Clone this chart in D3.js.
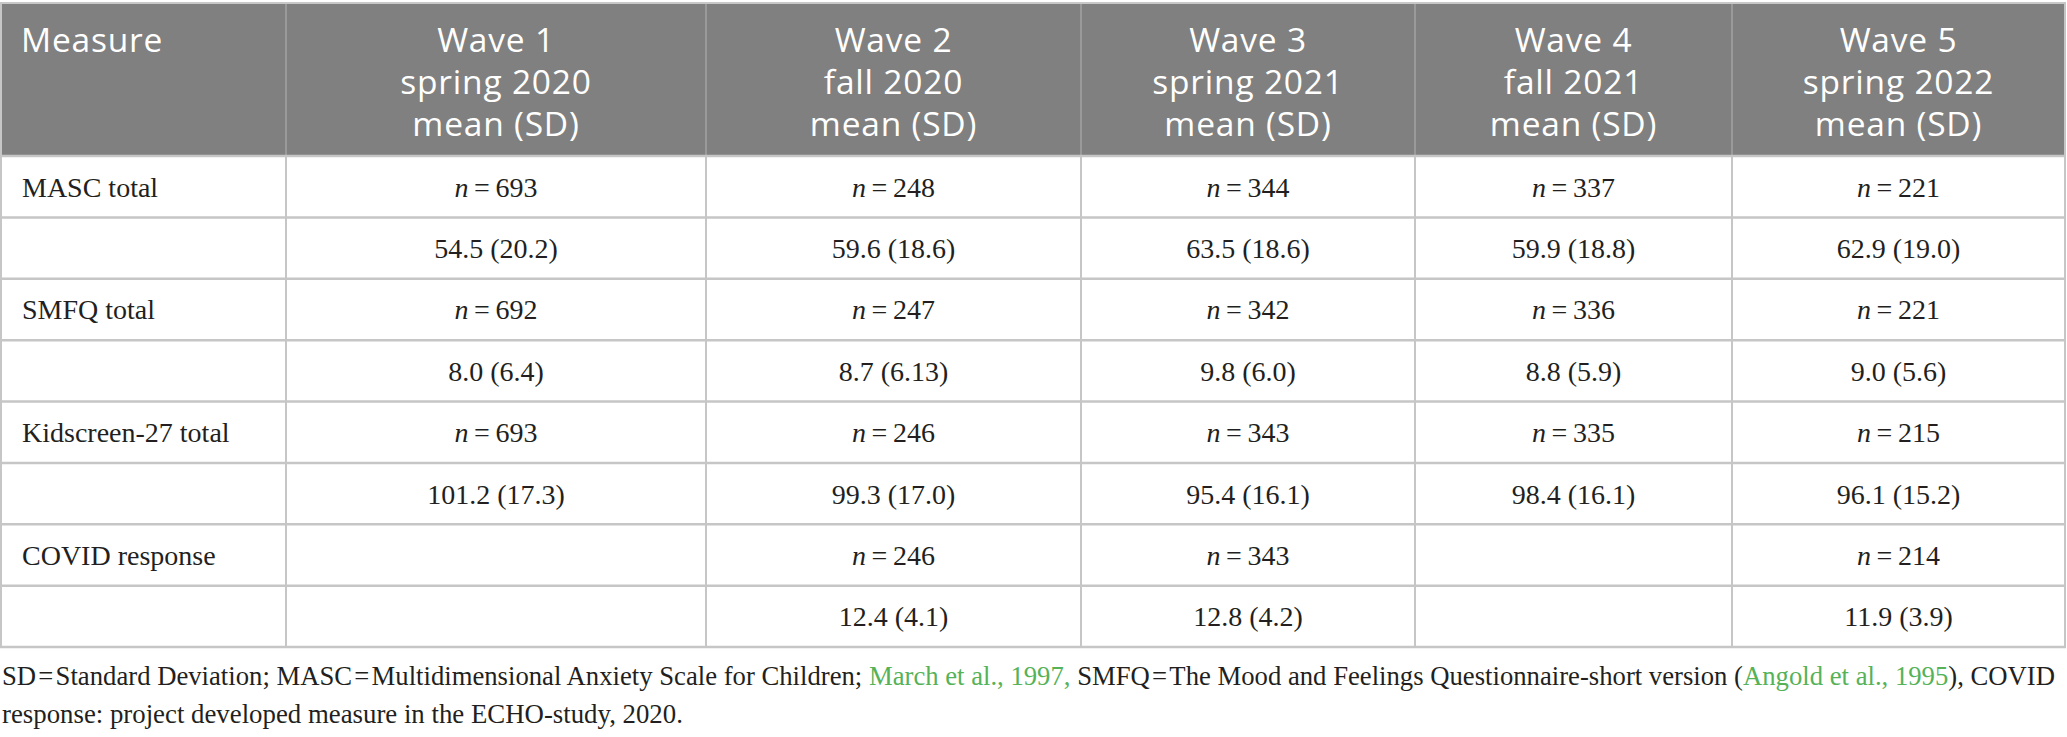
<!DOCTYPE html>
<html>
<head>
<meta charset="utf-8">
<script src="https://cdn.jsdelivr.net/npm/d3@7/dist/d3.min.js"></script>
<style>
  html, body { margin: 0; padding: 0; background: #ffffff; }
  svg { display: block; }
</style>
</head>
<body>
<svg id="chart" width="2067" height="737"></svg>
<script>
// ---------- DATA ----------
const measures = ["MASC total", "SMFQ total", "Kidscreen-27 total", "COVID response"];
const waves = ["Wave 1", "Wave 2", "Wave 3", "Wave 4", "Wave 5"];
const seasons = ["spring 2020", "fall 2020", "spring 2021", "fall 2021", "spring 2022"];
const statLabel = "mean (SD)";
const nValues = [
  [693, 248, 344, 337, 221],
  [692, 247, 342, 336, 221],
  [693, 246, 343, 335, 215],
  [null, 246, 343, null, 214]
];
const meanValues = [
  [54.5, 59.6, 63.5, 59.9, 62.9],
  [8.0, 8.7, 9.8, 8.8, 9.0],
  [101.2, 99.3, 95.4, 98.4, 96.1],
  [null, 12.4, 12.8, null, 11.9]
];
const sdValues = [
  [20.2, 18.6, 18.6, 18.8, 19.0],
  [6.4, 6.13, 6.0, 5.9, 5.6],
  [17.3, 17.0, 16.1, 16.1, 15.2],
  [null, 4.1, 4.2, null, 3.9]
];
const footnoteParts = [
  [{t: "SD\u200A=\u200AStandard Deviation; MASC\u200A=\u200AMultidimensional Anxiety Scale for Children; "},
   {t: "March et al., 1997,", link: true},
   {t: " SMFQ\u200A=\u200AThe Mood and Feelings Questionnaire-short version ("},
   {t: "Angold et al., 1995", link: true},
   {t: "), COVID"}],
  [{t: "response: project developed measure in the ECHO-study, 2020."}]
];

// ---------- LAYOUT ----------
const colEdges = [1, 286, 706, 1081, 1415, 1732, 2065];
const headerTop = 4, headerBottom = 156, tableBottom = 647;
const gridColor = "#c6c6c6";
const headerBg = "#7f807f";
const serif = "'Liberation Serif', 'Times New Roman', serif";
const sans = "'Open Sans', 'Noto Sans', sans-serif";
const footBase = [685, 723];
const footLen = [2054, 681];

const svg = d3.select("#chart");

const columns = ["Measure"].concat(waves);
const colIndex = d3.scaleOrdinal().domain(columns).range(d3.range(columns.length));
const colLeft = c => colEdges[colIndex(c)];
const colRight = c => colEdges[colIndex(c) + 1];
const colCenter = c => (colLeft(c) + colRight(c)) / 2;

// body rows: two per measure
const rowKeys = [];
measures.forEach((m, i) => { rowKeys.push({m: i, kind: "n"}); rowKeys.push({m: i, kind: "stat"}); });
const y = d3.scaleBand().domain(d3.range(rowKeys.length)).range([headerBottom, tableBottom]).padding(0);

// header background
svg.append("rect").attr("x", colEdges[0]).attr("y", headerTop)
  .attr("width", colEdges[colEdges.length - 1] - colEdges[0]).attr("height", headerBottom - headerTop)
  .attr("fill", headerBg);
svg.append("line").attr("x1", 0).attr("x2", colEdges[colEdges.length-1] + 1)
  .attr("y1", headerTop - 1).attr("y2", headerTop - 1)
  .attr("stroke", "#c8c8c8").attr("stroke-width", 2);

// header separators
svg.selectAll(".hsep").data(colEdges.slice(1, -1)).join("line")
  .attr("x1", d => d).attr("x2", d => d)
  .attr("y1", headerTop).attr("y2", headerBottom)
  .attr("stroke", "#a3a3a3").attr("stroke-width", 1.5);

// header text
const headerLineH = 42;
const headerMid = (headerTop + headerBottom) / 2;
const headSize = 33.5;
svg.append("text").attr("x", colLeft("Measure") + 20).attr("y", headerMid - headerLineH + 14)
  .attr("font-family", sans).attr("font-size", headSize).attr("letter-spacing", 0.8)
  .attr("fill", "#ffffff").text("Measure");

waves.forEach((w, i) => {
  const lines = [w, seasons[i], statLabel];
  svg.append("text").attr("text-anchor", "middle")
    .attr("font-family", sans).attr("font-size", headSize).attr("letter-spacing", 0.8).attr("fill", "#ffffff")
    .selectAll("tspan").data(lines).join("tspan")
    .attr("x", colCenter(w))
    .attr("y", (d, k) => headerMid + (k - 1) * headerLineH + 14)
    .text(d => d);
});

// body grid
svg.selectAll(".hline").data(d3.range(rowKeys.length + 1)).join("line")
  .attr("x1", colEdges[0] - 1).attr("x2", colEdges[colEdges.length - 1] + 1)
  .attr("y1", d => d === rowKeys.length ? tableBottom : y(d))
  .attr("y2", d => d === rowKeys.length ? tableBottom : y(d))
  .attr("stroke", gridColor).attr("stroke-width", 2.5);
svg.selectAll(".vline").data(colEdges).join("line")
  .attr("x1", d => d).attr("x2", d => d)
  .attr("y1", (d, i) => (i === 0 || i === colEdges.length - 1) ? headerTop - 2 : headerBottom)
  .attr("y2", tableBottom)
  .attr("stroke", gridColor).attr("stroke-width", 2);

// body text
const fmt = v => (Math.abs(Math.round(v * 10) - v * 10) < 1e-9) ? v.toFixed(1) : String(v);
const bodySize = 28;
const base = i => y(i) + y.bandwidth() / 2 + 10;

rowKeys.forEach((r, i) => {
  if (r.kind === "n") {
    svg.append("text").attr("x", colLeft("Measure") + 21).attr("y", base(i))
      .attr("font-family", serif).attr("font-size", bodySize).attr("fill", "#231f20")
      .text(measures[r.m]);
  }
  waves.forEach((w, j) => {
    const t = svg.append("text").attr("x", colCenter(w)).attr("y", base(i))
      .attr("text-anchor", "middle").attr("font-family", serif).attr("font-size", bodySize)
      .attr("fill", "#231f20");
    if (r.kind === "n") {
      const n = nValues[r.m][j];
      if (n == null) return;
      t.append("tspan").attr("font-style", "italic").text("n");
      t.append("tspan").text("\u2009=\u2009" + n);
    } else {
      const mv = meanValues[r.m][j], sv = sdValues[r.m][j];
      if (mv == null) return;
      t.text(fmt(mv) + " (" + fmt(sv) + ")");
    }
  });
});

// footnote: natural text, horizontally condensed to the reference line widths
footnoteParts.forEach((parts, li) => {
  const g = svg.append("g");
  const t = g.append("text").attr("x", 0).attr("y", footBase[li])
    .attr("font-family", serif).attr("font-size", bodySize).attr("fill", "#231f20");
  t.selectAll("tspan").data(parts).join("tspan")
    .attr("fill", d => d.link ? "#55b257" : "#231f20")
    .text(d => d.t);
  const natural = t.node().getComputedTextLength();
  const k = footLen[li] / natural;
  g.attr("transform", `translate(2,0) scale(${k},1)`);
});
</script>
</body>
</html>
